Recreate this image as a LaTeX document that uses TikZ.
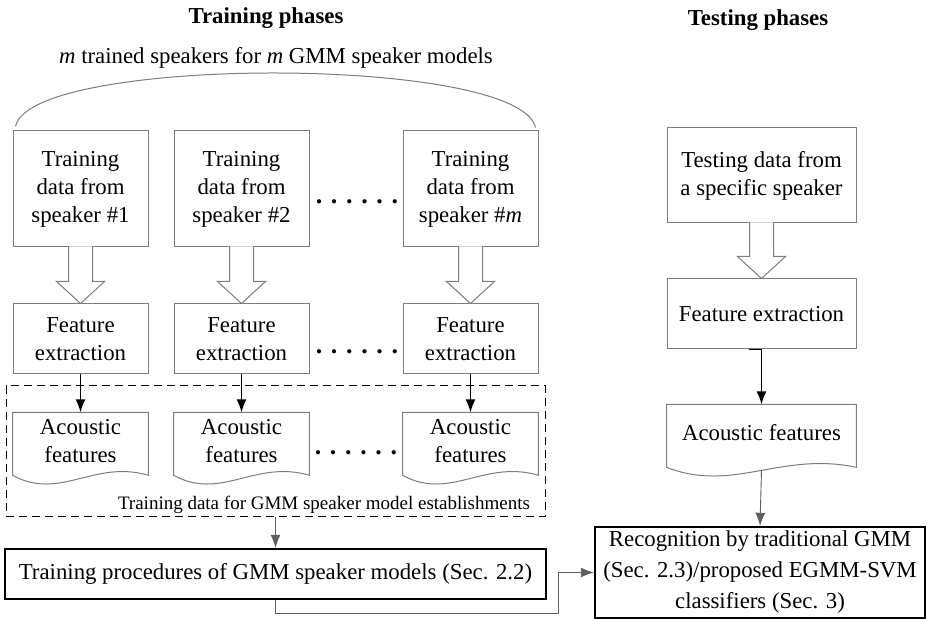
\documentclass[tikz,border=0pt]{standalone}
\usepackage{fontspec}
\setmainfont{Liberation Serif}
\usetikzlibrary{arrows.meta, positioning, fit, calc}
\definecolor{boxgray}{RGB}{125, 125, 125}
\definecolor{linegray}{RGB}{95, 95, 95}
\tikzstyle{block} = [rectangle, draw=boxgray, line width=0.5pt, text centered, align=center, minimum width=67.5pt, inner sep=0pt]
\tikzstyle{mainblock} = [rectangle, draw=black, line width=1.2pt, text centered, align=center, inner sep=0pt]
\tikzstyle{doc} = [rectangle, text centered, align=center, minimum width=67.5pt, minimum height=28pt, inner sep=0pt]
\tikzstyle{docline} = [draw=boxgray, line width=0.5pt]
\tikzstyle{hollow} = [draw=boxgray, line width=0.5pt, fill=white]
\tikzstyle{arrow} = [line width=0.9pt, -{Latex[length=6.5pt,width=5pt]}]
\tikzstyle{thinarrow} = [draw=linegray, line width=0.45pt, -{Latex[length=6.5pt,width=5pt]}]
\tikzstyle{dotsrow} = [inner sep=0pt, font=\fontsize{13}{15}\selectfont\bfseries]
\tikzstyle{phase} = [font=\fontsize{11.4}{14}\selectfont\bfseries]
% open block arrow between two stacked boxes
\newcommand{\hollowarrow}[2]{%
  \draw[hollow] ($(#1.south)+(-12,-1)$) -- ($(#2.north)+(-12,-22)$) -- ($(#2.north)+(-24,-22)$)
    -- (#2.north) -- ($(#2.north)+(24,-22)$) -- ($(#2.north)+(12,-22)$) -- ($(#1.south)+(12,-1)$);}
% document outline with wavy bottom
\newcommand{\docoutline}[1]{%
  \draw[docline] (#1.north west) -- (#1.north east) -- ($(#1.south east)+(0,6)$)
    .. controls ($(#1.south east)!0.4!(#1.south west)+(0,-10)$) and ($(#1.south east)!0.65!(#1.south west)+(0,32)$)
    .. ($(#1.south west)+(0,6)$) -- cycle;}

\begin{document}
\begin{tikzpicture}[x=0.5pt, y=-0.5pt, font=\fontsize{11.4}{14}\selectfont]
\useasboundingbox (0,0) rectangle (927,619);

% Titles
\node (traintitle) [phase] at (266,18) {Training phases};
\node (testtitle) [phase] at (758,20) {Testing phases};
\node (mspk) at (276,58) {\textit{m} trained speakers for \textit{m} GMM speaker models};

% Training column
\node (tr1) [block, minimum height=58pt] at (80.5,189) {Training\\data from\\speaker \#1};
\node (tr2) [block, minimum height=58pt, right=12.5pt of tr1] {Training\\data from\\speaker \#2};
\node (tr3) [block, minimum height=58pt, right=46.5pt of tr2] {Training\\data from\\speaker \#\textit{m}};
\node (fe1) [block, minimum height=35pt, below=28pt of tr1] {Feature\\extraction};
\node (fe2) [block, minimum height=35pt, below=28pt of tr2] {Feature\\extraction};
\node (fe3) [block, minimum height=35pt, below=28pt of tr3] {Feature\\extraction};
\node (ac1) [doc, below=19pt of fe1] {Acoustic\\features};
\node (ac2) [doc, below=19pt of fe2] {Acoustic\\features};
\node (ac3) [doc, below=19pt of fe3] {Acoustic\\features};
\node (dots1) [dotsrow] at (357,202) {. . . . . .};
\node (dots2) [dotsrow] at (357,352) {. . . . . .};
\node (dots3) [dotsrow] at (356,453) {. . . . . .};
\node (trainset) [fit={(6,386) (545,517)}, draw, dash pattern=on 4pt off 2.5pt, line width=0.5pt, inner sep=0pt] {};
\node (trainlbl) [font=\fontsize{9.5}{11}\selectfont] at (324,505) {Training data for GMM speaker model establishments};
\node (tp) [mainblock, minimum width=270.5pt, minimum height=25pt] at (275.5,574) {Training procedures of GMM speaker models (Sec. 2.2)};

% Testing column
\node (ts) [block, minimum width=94.5pt, minimum height=47.5pt] at (761.5,175.5) {Testing data from\\a specific speaker};
\node (fet) [block, minimum width=94.5pt, minimum height=35pt, below=27.5pt of ts] {Feature extraction};
\node (act) [doc, minimum width=94.5pt, below=27.5pt of fet] {Acoustic features};
\node (rec) [mainblock, minimum width=165pt, minimum height=45.5pt, font=\fontsize{11.4}{15.5}\selectfont] at (760,572.5) {Recognition by traditional GMM\\(Sec. 2.3)/proposed EGMM-SVM\\classifiers (Sec. 3)};
\coordinate (bend) at (558,613);

% Outlines
\draw[boxgray, line width=0.5pt] ($(tr1.north west)+(3,-4)$) .. controls (30,55) and (519,55) .. ($(tr3.north east)+(-3,-3)$);
\docoutline{ac1}
\docoutline{ac2}
\docoutline{ac3}
\docoutline{act}

% Arrows
\hollowarrow{tr1}{fe1}
\hollowarrow{tr2}{fe2}
\hollowarrow{tr3}{fe3}
\hollowarrow{ts}{fet}
\draw [arrow] (fe1.south) -- (ac1.north);
\draw [arrow] (fe2.south) -- (ac2.north);
\draw [arrow] (fe3.south) -- (ac3.north);
\draw [arrow] ($(fet.south)+(-13,0)$) -| (act.north);
\draw [thinarrow] (trainset.south) -- (tp.north);
\draw [thinarrow] ($(act.south)+(0,9)$) -- (rec.north);
\draw [thinarrow] (tp.south) |- (bend) |- (rec.west);

\end{tikzpicture}
\end{document}
